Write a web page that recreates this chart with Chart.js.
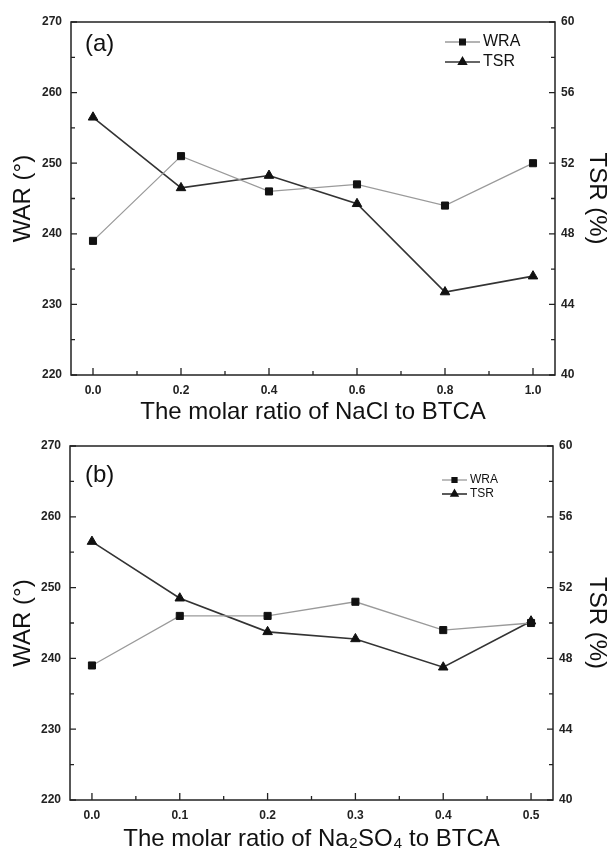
<!DOCTYPE html>
<html>
<head>
<meta charset="utf-8">
<title>WAR and TSR vs molar ratio</title>
<script src="https://cdn.jsdelivr.net/npm/chart.js@4.4.1/dist/chart.umd.min.js"></script>
<style>
  body { margin: 0; background: #fff; }
  .panel { width: 609px; height: 427px; position: relative; }
</style>
</head>
<body>
<div class="panel"><canvas id="chartA" width="609" height="427"></canvas></div>
<div class="panel"><canvas id="chartB" width="609" height="427"></canvas></div>
<script>
// panel (a): NaCl
const ratioNaCl = [0.0, 0.2, 0.4, 0.6, 0.8, 1.0];
const wraNaCl = [239, 251, 246, 247, 244, 250];
const tsrNaCl = [54.6, 50.6, 51.3, 49.7, 44.7, 45.6];

// panel (b): Na2SO4
const ratioNa2SO4 = [0.0, 0.1, 0.2, 0.3, 0.4, 0.5];
const wraNa2SO4 = [239, 246, 246, 248, 244, 245];
const tsrNa2SO4 = [54.6, 51.4, 49.5, 49.1, 47.5, 50.1];

// tick labels
const warTicks = [220, 230, 240, 250, 260, 270];
const tsrTicks = [40, 44, 48, 52, 56, 60];
const xTicksNaCl = [0.0, 0.2, 0.4, 0.6, 0.8, 1.0];
const xTicksNa2SO4 = [0.0, 0.1, 0.2, 0.3, 0.4, 0.5];

Chart.defaults.font.family = "'Liberation Sans', Arial, sans-serif";
Chart.defaults.color = '#222';

// major ticks plus a minor tick halfway between each pair
const withMinor = (major) => {
  const out = [];
  major.forEach((v, i) => {
    out.push({ value: v, minor: false });
    if (i < major.length - 1) out.push({ value: (v + major[i + 1]) / 2, minor: true });
  });
  return out;
};

// box round the plot, with tick marks pointing inward
const frameTicks = {
  id: 'frameTicks',
  afterDatasetsDraw(chart) {
    const { ctx, chartArea: a, scales } = chart;
    ctx.save();
    ctx.strokeStyle = '#222';
    ctx.lineWidth = 1.5;
    ctx.strokeRect(a.left, a.top, a.right - a.left, a.bottom - a.top);
    ctx.lineWidth = 1.3;
    ctx.beginPath();
    scales.x.ticks.forEach((t) => {
      const px = scales.x.getPixelForValue(t.value);
      ctx.moveTo(px, a.bottom);
      ctx.lineTo(px, a.bottom - (t.minor ? 4 : 7));
    });
    scales.y.ticks.forEach((t) => {
      const py = scales.y.getPixelForValue(t.value);
      ctx.moveTo(a.left, py);
      ctx.lineTo(a.left + (t.minor ? 4 : 6), py);
    });
    scales.y1.ticks.forEach((t) => {
      const py = scales.y1.getPixelForValue(t.value);
      ctx.moveTo(a.right, py);
      ctx.lineTo(a.right - (t.minor ? 4 : 6), py);
    });
    ctx.stroke();
    ctx.restore();
  },
};

// legend with a line segment and marker, plus the panel letter
const lineLegend = {
  id: 'lineLegend',
  afterDraw(chart, args, opts) {
    const { ctx } = chart;
    ctx.save();
    ctx.font = opts.panelFont;
    ctx.fillStyle = '#111';
    ctx.textBaseline = 'middle';
    ctx.fillText(opts.panel, opts.panelX, opts.panelY);
    ctx.font = opts.font;
    chart.data.datasets.forEach((ds, i) => {
      const y = opts.y + i * opts.gap;
      ctx.strokeStyle = ds.borderColor;
      ctx.lineWidth = ds.borderWidth;
      ctx.beginPath();
      ctx.moveTo(opts.x, y);
      ctx.lineTo(opts.x + opts.lineLen, y);
      ctx.stroke();
      ctx.fillStyle = '#111';
      ctx.strokeStyle = '#111';
      Chart.helpers.drawPoint(ctx, {
        pointStyle: ds.pointStyle,
        radius: ds.pointRadius * opts.markScale,
        borderWidth: 1,
      }, opts.x + opts.lineLen / 2, y);
      ctx.fillText(ds.label, opts.x + opts.lineLen + 3, y);
    });
    ctx.restore();
  },
};

function makeChart(id, cfg) {
  const ctx = document.getElementById(id);
  const xTickList = withMinor(cfg.xTicks);
  const warList = withMinor(warTicks);
  const tsrList = withMinor(tsrTicks);
  return new Chart(ctx, {
    type: 'line',
    data: {
      datasets: [
        {
          label: 'WRA',
          yAxisID: 'y',
          data: cfg.ratio.map((r, i) => ({ x: r, y: cfg.wra[i] })),
          borderColor: '#9a9a9a',
          borderWidth: 1.3,
          pointStyle: 'rect',
          pointRadius: 5,
          pointBackgroundColor: '#111',
          pointBorderColor: '#111',
          pointBorderWidth: 1,
          tension: 0,
        },
        {
          label: 'TSR',
          yAxisID: 'y1',
          data: cfg.ratio.map((r, i) => ({ x: r, y: cfg.tsr[i] })),
          borderColor: '#333',
          borderWidth: 1.6,
          pointStyle: 'triangle',
          pointRadius: 5.5,
          pointBackgroundColor: '#111',
          pointBorderColor: '#111',
          pointBorderWidth: 1,
          tension: 0,
        },
      ],
    },
    options: {
      responsive: false,
      animation: false,
      devicePixelRatio: 1,
      layout: { padding: { top: cfg.top, left: 0, right: 0, bottom: 0 } },
      plugins: {
        legend: { display: false },
        tooltip: { enabled: false },
        lineLegend: cfg.legend,
      },
      scales: {
        x: {
          type: 'linear',
          min: cfg.xMin,
          max: cfg.xMax,
          afterBuildTicks: (s) => { s.ticks = xTickList.map((t) => ({ ...t })); },
          afterFit: (s) => { s.height = cfg.xHeight; },
          grid: { display: false, drawTicks: false },
          border: { display: false },
          ticks: {
            autoSkip: false,
            maxRotation: 0,
            padding: 8,
            font: { size: 12, weight: 'bold' },
            callback: (v, i, ticks) => (ticks[i].minor ? '' : Number(v).toFixed(1)),
          },
          title: {
            display: true,
            text: cfg.xTitle,
            font: { size: 24 },
            color: '#111',
            padding: { top: 0, bottom: 0 },
          },
        },
        y: {
          position: 'left',
          min: 220,
          max: 270,
          afterBuildTicks: (s) => { s.ticks = warList.map((t) => ({ ...t })); },
          afterFit: (s) => { s.width = cfg.leftWidth; },
          grid: { display: false, drawTicks: false },
          border: { display: false },
          ticks: {
            autoSkip: false,
            padding: 9,
            font: { size: 12, weight: 'bold' },
            callback: (v, i, ticks) => (ticks[i].minor ? '' : String(v)),
          },
          title: {
            display: true,
            text: 'WAR (°)',
            font: { size: 24 },
            color: '#111',
            padding: { top: 9, bottom: 0 },
          },
        },
        y1: {
          position: 'right',
          min: 40,
          max: 60,
          afterBuildTicks: (s) => { s.ticks = tsrList.map((t) => ({ ...t })); },
          afterFit: (s) => { s.width = cfg.rightWidth; },
          grid: { display: false, drawTicks: false },
          border: { display: false },
          ticks: {
            autoSkip: false,
            padding: 6,
            font: { size: 12, weight: 'bold' },
            callback: (v, i, ticks) => (ticks[i].minor ? '' : String(v)),
          },
          title: {
            display: true,
            text: 'TSR (%)',
            font: { size: 24, lineHeight: 1 },
            color: '#111',
            padding: { top: 0, bottom: 0 },
          },
        },
      },
    },
    plugins: [frameTicks, lineLegend],
  });
}

makeChart('chartA', {
  ratio: ratioNaCl,
  wra: wraNaCl,
  tsr: tsrNaCl,
  xTicks: xTicksNaCl,
  xMin: -0.05,
  xMax: 1.05,
  xTitle: 'The molar ratio of NaCl to BTCA',
  top: 22,
  xHeight: 52,
  leftWidth: 71,
  rightWidth: 54,
  legend: {
    panel: '(a)', panelX: 85, panelY: 44, panelFont: "24px 'Liberation Sans', Arial, sans-serif",
    x: 445, y: 42, gap: 20, lineLen: 35, markScale: 0.8,
    font: "16px 'Liberation Sans', Arial, sans-serif",
  },
});

makeChart('chartB', {
  ratio: ratioNa2SO4,
  wra: wraNa2SO4,
  tsr: tsrNa2SO4,
  xTicks: xTicksNa2SO4,
  xMin: -0.025,
  xMax: 0.525,
  xTitle: 'The molar ratio of Na₂SO₄ to BTCA',
  top: 19,
  xHeight: 54,
  leftWidth: 70,
  rightWidth: 56,
  legend: {
    panel: '(b)', panelX: 85, panelY: 48, panelFont: "24px 'Liberation Sans', Arial, sans-serif",
    x: 442, y: 53, gap: 14, lineLen: 25, markScale: 0.7,
    font: "12px 'Liberation Sans', Arial, sans-serif",
  },
});
</script>
</body>
</html>
